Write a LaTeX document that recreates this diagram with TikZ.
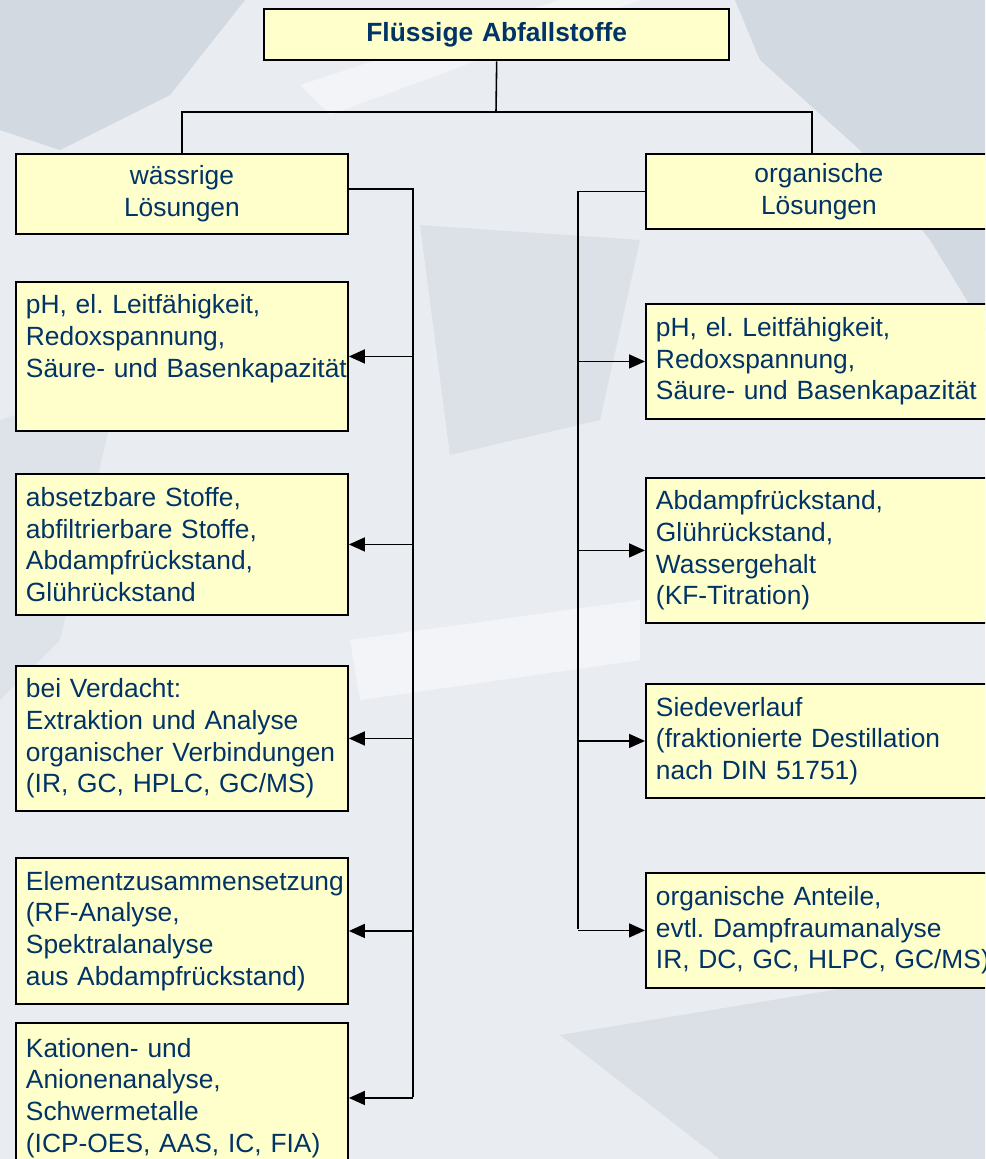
\documentclass[tikz,border=0pt]{standalone}
\usepackage{fontspec}
\setmainfont{Liberation Sans}
\usetikzlibrary{arrows.meta, positioning}
\definecolor{textNavy}{RGB}{0, 51, 102}
\definecolor{boxYellow}{RGB}{255, 255, 204}
\definecolor{bgLight}{RGB}{233, 236, 241}
\definecolor{bgDark}{RGB}{206, 213, 222}
\definecolor{bgPale}{RGB}{245, 247, 250}
\frenchspacing

\begin{document}
\begin{tikzpicture}[
    x=0.02cm, y=-0.02cm,
    block/.style={rectangle, draw=black, line width=1.1pt, fill=boxYellow, text=textNavy, font=\fontsize{15pt}{18pt}\selectfont, inner xsep=0.2cm, inner ysep=0pt},
    leftblock/.style={block, anchor=north west, text width=6.24cm, minimum width=6.64cm, align=left},
    rightblock/.style={block, anchor=north west, text width=6.52cm, minimum width=6.92cm, align=left},
    headblock/.style={block, anchor=north west, align=center},
    line/.style={draw=black, line width=0.9pt},
    arrowline/.style={line, -{Triangle[length=0.32cm, width=0.28cm]}}
]
    % Hintergrund
    \clip (0,0) rectangle (985,1159);
    \fill[bgLight] (0,0) rectangle (985,1159);
    \fill[bgDark, opacity=0.8] (0,0) -- (245,0) -- (170,95) -- (60,150) -- (0,130) -- cycle;
    \fill[bgDark, opacity=0.8] (735,0) -- (985,0) -- (985,330) -- (930,240) -- (860,150) -- (760,60) -- cycle;
    \fill[bgDark, opacity=0.45] (420,225) -- (640,240) -- (600,420) -- (450,455) -- cycle;
    \fill[bgDark, opacity=0.4] (0,420) -- (120,380) -- (60,640) -- (0,700) -- cycle;
    \fill[bgDark, opacity=0.5] (560,1035) -- (985,965) -- (985,1159) -- (720,1159) -- cycle;
    \fill[bgPale, opacity=0.8] (300,85) -- (560,0) -- (640,0) -- (330,115) -- cycle;
    \fill[bgPale, opacity=0.8] (350,640) -- (640,600) -- (640,660) -- (360,700) -- cycle;

    % Knoten
    \node (top) [headblock, text width=8.9cm, minimum width=9.3cm, minimum height=1.02cm, line width=1.4pt, font=\fontsize{15pt}{18pt}\selectfont\bfseries] at (263,8) {Flüssige Abfallstoffe};
    \node (lh) [headblock, text width=6.24cm, minimum width=6.64cm, minimum height=1.6cm] at (15,153) {wässrige\\Lösungen};
    \node (rh) [headblock, text width=6.52cm, minimum width=6.92cm, minimum height=1.5cm] at (645,153) {organische\\Lösungen};

    % wässrige Lösungen
    \node (w1) [leftblock, minimum height=2.98cm] at (15,281) {pH, el. Leitfähigkeit,\\Redoxspannung,\\\mbox{Säure- und Basenkapazität}\\\strut};
    \node (w2) [leftblock, minimum height=2.82cm] at (15,473) {absetzbare Stoffe,\\abfiltrierbare Stoffe,\\Abdampfrückstand,\\Glührückstand};
    \node (w3) [leftblock, minimum height=2.9cm] at (15,665) {bei Verdacht:\\Extraktion und Analyse\\\mbox{organischer Verbindungen}\\(IR, GC, HPLC, GC/MS)};
    \node (w4) [leftblock, minimum height=2.92cm] at (15,857) {\mbox{Elementzusammensetzung}\\(RF-Analyse,\\Spektralanalyse\\aus Abdampfrückstand)};
    \node (w5) [leftblock, minimum height=3.0cm] at (15,1022) {Kationen- und\\Anionenanalyse,\\Schwermetalle\\(ICP-OES, AAS, IC, FIA)};

    % organische Lösungen
    \node (o1) [rightblock, minimum height=2.3cm] at (645,303) {pH, el. Leitfähigkeit,\\Redoxspannung,\\\mbox{Säure- und Basenkapazität}};
    \node (o2) [rightblock, minimum height=2.9cm] at (645,477) {Abdampfrückstand,\\Glührückstand,\\Wassergehalt\\(KF-Titration)};
    \node (o3) [rightblock, minimum height=2.28cm] at (645,683) {Siedeverlauf\\(fraktionierte Destillation\\nach DIN 51751)};
    \node (o4) [rightblock, minimum height=2.3cm] at (645,872) {organische Anteile,\\evtl. Dampfraumanalyse\\\mbox{IR, DC, GC, HLPC, GC/MS)}};

    % Verbindungen
    \coordinate (fork) at (496,112);
    \coordinate (lspine) at (413,1097);
    \coordinate (rspine) at (578,929);
    \path [line] (top.south) -- (fork);
    \path [line] (fork) -| (lh.north);
    \path [line] (fork) -| ([xshift=-0.14cm]rh.north);
    \path [line] ([yshift=0.1cm]lh.east) -| (lspine);
    \path [line] (rh.west) -| (rspine);
    \foreach \b in {w1,w2,w3,w4,w5}
        \path [arrowline] (lspine |- \b.east) -- (\b.east);
    \foreach \b in {o1,o2,o3,o4}
        \path [arrowline] (rspine |- \b.west) -- (\b.west);
\end{tikzpicture}
\end{document}
